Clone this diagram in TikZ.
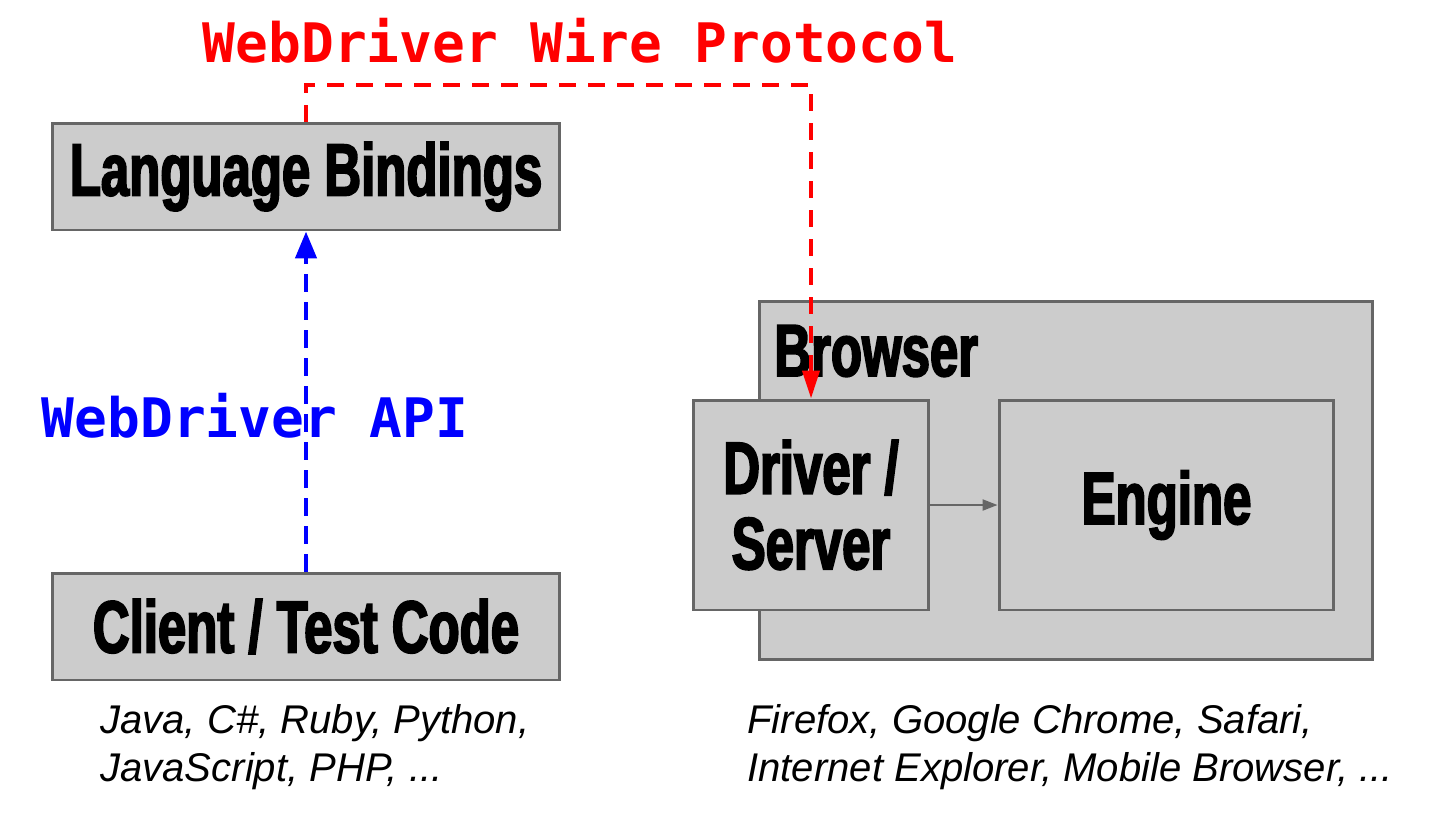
\documentclass[tikz,border=0pt]{standalone}
\usepackage{fontspec}
\setmainfont{Liberation Sans}
\newfontfamily\heavyfont[FakeStretch=0.69,FakeBold=2.5]{Liberation Sans}
\newfontfamily\codefont{DejaVu Sans Mono}
\usetikzlibrary{arrows.meta,positioning}
\definecolor{boxgray}{HTML}{CCCCCC}
\definecolor{linegray}{HTML}{666666}

\begin{document}
\begin{tikzpicture}[
  x=0.02cm, y=-0.02cm,
  every node/.style={align=center},
  layer/.style={draw=linegray,fill=boxgray,line width=1.7pt,inner sep=0pt,
    font=\heavyfont\bfseries\fontsize{42}{43}\selectfont},
  title/.style={inner sep=0pt,font=\heavyfont\bfseries\fontsize{42}{43}\selectfont},
  protocol/.style={font=\codefont\bfseries\fontsize{31}{36}\selectfont},
  langs/.style={align=left,inner sep=0pt,font=\itshape\fontsize{22.8}{27.3}\selectfont},
  wire/.style={red,line width=2.3pt,dash pattern=on 0.34cm off 0.24cm,
    -{Triangle[length=0.56cm,width=0.34cm]}},
  api/.style={blue,line width=2.6pt,dash pattern=on 0.36cm off 0.2cm,
    -{Triangle[length=0.54cm,width=0.42cm]}},
  flow/.style={linegray,line width=1.2pt,-{Triangle[length=0.3cm,width=0.22cm]}}]

  \useasboundingbox (0,0) rectangle (1442,812);

  % Client side
  \node[layer,minimum width=10.16cm,minimum height=2.14cm] (bindings) at (306,176.5) {Language Bindings};
  \node[layer,minimum width=10.16cm,minimum height=2.14cm] (client) at (306,626.5) {Client / Test Code};

  % Browser side
  \node[layer,minimum width=12.28cm,minimum height=7.18cm] (browser) at (1066,480.5) {};
  \node[title,anchor=west] (browserlabel) at (774,351) {Browser};
  \node[layer,minimum width=4.72cm,minimum height=4.2cm] (driver) at (811,505) {Driver /\\Server};
  \node[layer,minimum width=6.7cm,minimum height=4.2cm] (engine) at (1166.5,505) {Engine};

  % Labels
  \node[protocol,red] (wirelabel) at (580,41) {WebDriver Wire Protocol};
  \node[protocol,blue] (apilabel) at (255,416) {WebDriver API};
  \node[langs,anchor=west] (clientlangs) at (100,747) {Java, C\#, Ruby, Python,\\JavaScript, PHP, ...};
  \node[langs,anchor=west] (browsers) at (747,747) {Firefox, Google Chrome, Safari,\\Internet Explorer, Mobile Browser, ...};

  % Connectors
  \coordinate (bend) at (811,85);
  \draw[wire] (bindings.north) |- (bend) -- (driver.north);
  \draw[api] (client.north) -- (bindings.south);
  \draw[flow] (driver.east) -- (engine.west);

\end{tikzpicture}
\end{document}
